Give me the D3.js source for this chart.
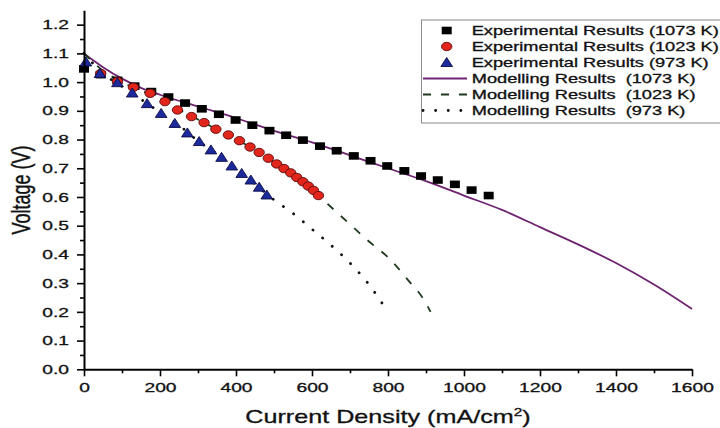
<!DOCTYPE html>
<html><head><meta charset="utf-8">
<script src="https://cdn.jsdelivr.net/npm/d3@7"></script>
<style>
body{margin:0;background:#fff}
svg{display:block}
text{font-family:"Liberation Sans",Arial,Helvetica,sans-serif;fill:#111;stroke:#111;stroke-width:0.3px}
</style>
</head><body>
<svg id="chart" width="720" height="428"></svg>
<script>
// ---- data ----
const xTicks = [0,200,400,600,800,1000,1200,1400,1600];
const yTicks = [0,0.1,0.2,0.3,0.4,0.5,0.6,0.7,0.8,0.9,1.0,1.1,1.2];
const xMinorTicks = [100,300,500,700,900,1100,1300,1500];
const yMinorTicks = [0.05,0.15,0.25,0.35,0.45,0.55,0.65,0.75,0.85,0.95,1.05,1.15];

const exp1073X = [0,44,88,133,177,222,266,310,355,399,443,488,532,576,621,665,710,754,798,843,887,931,976,1020,1065];
const exp1073Y = [1.046,1.026,1.006,0.986,0.967,0.948,0.927,0.907,0.888,0.868,0.850,0.831,0.815,0.798,0.777,0.761,0.743,0.726,0.708,0.691,0.673,0.659,0.644,0.624,0.605];

const exp1023X = [44,88,130,174,213,246,283,316,347,380,409,437,461,485,507,526,544,560,576,590,604,617];
const exp1023Y = [1.03,1.002,0.982,0.961,0.932,0.903,0.880,0.859,0.836,0.816,0.796,0.774,0.755,0.735,0.715,0.699,0.684,0.668,0.653,0.638,0.623,0.605];

const exp973X = [5,42,88,127,166,203,239,272,303,334,362,389,415,439,461,481];
const exp973Y = [1.07,1.03,0.998,0.962,0.925,0.891,0.856,0.823,0.793,0.764,0.738,0.708,0.682,0.659,0.634,0.607];

const mod1073X = [0,25,50,100,150,200,300,400,500,600,700,800,900,1000,1100,1200,1300,1400,1500,1600];
const mod1073Y = [1.10,1.075,1.052,1.012,0.980,0.956,0.915,0.875,0.830,0.790,0.745,0.700,0.655,0.605,0.555,0.495,0.435,0.370,0.295,0.210];

const mod1023X = [0,50,100,150,200,250,300,350,400,450,500,550,600,650,700,750,800,850,900,912];
const mod1023Y = [1.10,1.04,1.00,0.97,0.945,0.905,0.870,0.835,0.800,0.765,0.720,0.675,0.625,0.565,0.505,0.445,0.390,0.315,0.230,0.200];

const mod973X = [0,50,100,150,200,250,300,350,400,450,500,550,600,650,700,750,797];
const mod973Y = [1.10,1.03,0.985,0.94,0.895,0.85,0.795,0.75,0.70,0.645,0.59,0.543,0.488,0.432,0.37,0.295,0.205];

const legendLabels = [
  "Experimental Results (1073 K)",
  "Experimental Results (1023 K)",
  "Experimental Results (973 K)",
  "Modelling Results  (1073 K)",
  "Modelling Results  (1023 K)",
  "Modelling Results  (973 K)"
];

// ---- drawing ----
const SX = 1.48; // horizontal stretch of the source picture
const svg = d3.select("#chart");
const x = d3.scaleLinear().domain([0,1600]).range([84,692]);
const y = d3.scaleLinear().domain([0,1.25]).range([369.3,10.3]);

const zip = (xs, ys) => xs.map((v,i)=>[v, ys[i]]);
const line = d3.line().x(d=>x(d[0])).y(d=>y(d[1])).curve(d3.curveMonotoneX);

function stretchText(sel, sx){
  sel.each(function(){
    const t = d3.select(this);
    const tx = +t.attr("x") || 0;
    const ty = +t.attr("y") || 0;
    t.attr("x",0).attr("y",0).attr("transform",`translate(${tx},${ty}) scale(${sx},1)`);
  });
}

// Model lines
const styles = {
  l1073: {stroke:"#6e2370", width:1.8, dash:null, cap:"butt"},
  l1023: {stroke:"#1e3a1e", width:1.8, dash:"8,10", cap:"butt"},
  l973:  {stroke:"#111", width:2.8, dash:"0.1,12.5", cap:"round"}
};
[[mod1073X,mod1073Y,styles.l1073],[mod1023X,mod1023Y,styles.l1023],[mod973X,mod973Y,styles.l973]].forEach(([xs,ys,s])=>{
  svg.append("path").datum(zip(xs,ys)).attr("d",line)
    .attr("fill","none").attr("stroke",s.stroke).attr("stroke-width",s.width)
    .attr("stroke-dasharray",s.dash).attr("stroke-linecap",s.cap);
});

// markers
const sq = (g)=>g.append("rect").attr("x",-5).attr("y",-3.8).attr("width",10).attr("height",7.6).attr("fill","#000");
const ci = (g)=>g.append("ellipse").attr("rx",5.2).attr("ry",4.2).attr("fill","#e3261b").attr("stroke","#5a0c0c").attr("stroke-width",0.9);
const tr = (g)=>g.append("path").attr("d","M0,-5 L5.8,4 L-5.8,4 Z").attr("fill","#1c2a9c").attr("stroke","#0b0b45").attr("stroke-width",0.9);

function markers(xs, ys, fn){
  svg.append("g").selectAll("g").data(zip(xs,ys)).join("g")
    .attr("transform",d=>`translate(${x(d[0])},${y(d[1])})`)
    .each(function(){ fn(d3.select(this)); });
}
markers(exp1073X, exp1073Y, sq);
markers(exp1023X, exp1023Y, ci);
markers(exp973X, exp973Y, tr);

// axes
const gx = svg.append("g").attr("transform",`translate(0,${y(0)})`)
  .call(d3.axisBottom(x).tickValues(xTicks).tickSize(7).tickSizeOuter(0).tickPadding(6).tickFormat(d3.format("d")));
svg.append("g").attr("transform",`translate(0,${y(0)})`)
  .call(d3.axisBottom(x).tickValues(xMinorTicks).tickSize(4).tickSizeOuter(0).tickFormat(""))
  .select(".domain").remove();
const gy = svg.append("g").attr("transform",`translate(${x(0)},0)`)
  .call(d3.axisLeft(y).tickValues(yTicks).tickSize(7).tickSizeOuter(0).tickPadding(8).tickFormat(d3.format(".1f")));
svg.append("g").attr("transform",`translate(${x(0)},0)`)
  .call(d3.axisLeft(y).tickValues(yMinorTicks).tickSize(4).tickSizeOuter(0).tickFormat(""))
  .select(".domain").remove();

svg.selectAll(".domain").attr("stroke","#000").attr("stroke-width",2);
svg.selectAll(".tick line").attr("stroke","#000").attr("stroke-width",1.6);
[gx,gy].forEach(g=>g.selectAll("text").attr("font-size",13).attr("fill","#111")
  .style("font-family","'Liberation Sans',Arial,sans-serif"));
stretchText(gx.selectAll(".tick text"), SX);
stretchText(gy.selectAll(".tick text"), SX);

// axis titles
const xt = svg.append("text").attr("text-anchor","middle").attr("font-size",18)
  .attr("transform",`translate(${x(800)},423) scale(1.4,1)`);
xt.append("tspan").text("Current Density (mA/cm");
xt.append("tspan").attr("font-size",11).attr("dy",-7).text("2");
xt.append("tspan").attr("dy",7).text(")");

svg.append("text").attr("text-anchor","middle").attr("font-size",18)
  .attr("transform",`translate(30,190) scale(1.4,1) rotate(-90)`)
  .text("Voltage (V)");

// legend
const lg = svg.append("g");
lg.append("rect").attr("x",421.5).attr("y",20).attr("width",310).attr("height",103)
  .attr("fill","#fff").attr("stroke","#8a8a8a").attr("stroke-width",1);
const rowY = i => 30.5 + i*16;
const symX = 446.7;
[sq,ci,tr].forEach((fn,i)=>{
  const g = lg.append("g").attr("transform",`translate(${symX},${rowY(i)})`);
  fn(g);
});
[styles.l1073,styles.l1023,styles.l973].forEach((s,j)=>{
  const i = j+3;
  lg.append("line").attr("x1",423).attr("x2",467).attr("y1",rowY(i)).attr("y2",rowY(i))
    .attr("stroke",s.stroke).attr("stroke-width",s.width).attr("stroke-dasharray",s.dash)
    .attr("stroke-linecap",s.cap);
});
legendLabels.forEach((t,i)=>{
  lg.append("text").attr("font-size",12).attr("xml:space","preserve")
    .attr("transform",`translate(471.7,${rowY(i)+4.3}) scale(1.52,1)`)
    .style("white-space","pre")
    .text(t);
});
</script>
</body></html>
